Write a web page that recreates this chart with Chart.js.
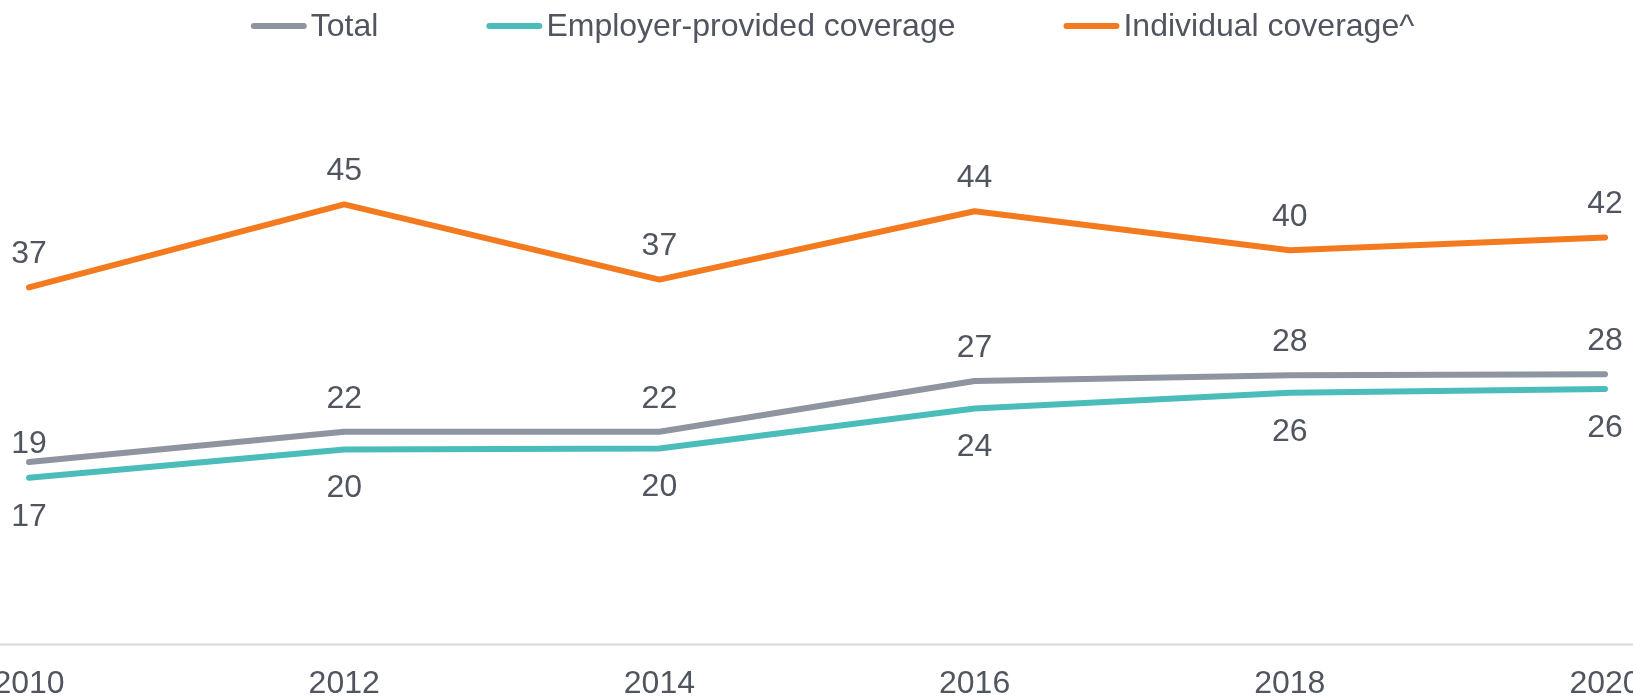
<!DOCTYPE html>
<html>
<head>
<meta charset="utf-8">
<script src="https://cdn.jsdelivr.net/npm/chart.js@4.4.1/dist/chart.umd.min.js"></script>
<style>
  html, body { margin: 0; padding: 0; background: #fff; }
  /* the plot runs past the window edges, so first/last year labels get cut like the original */
  #frame { position: relative; width: 1633px; height: 699px; overflow: hidden; }
  #wrap { position: absolute; left: -60px; top: 0; width: 1753px; height: 723px; }
</style>
</head>
<body>
<div id="frame"><div id="wrap"><canvas id="coverageChart"></canvas></div></div>
<script>
// données
const years = ['2010', '2012', '2014', '2016', '2018', '2020'];
const totalValues = [18.7, 21.8, 21.8, 27.0, 27.6, 27.7];
const employerValues = [17.1, 20.0, 20.1, 24.2, 25.8, 26.2];
const individualValues = [36.6, 45.1, 37.4, 44.4, 40.4, 41.7];
const seriesNames = ['Total', 'Employer-provided coverage', 'Individual coverage^'];

const TEXT_COLOR = '#50555f';
const FONT_FAMILY = "'Liberation Sans', Arial, sans-serif";
const FONT_SIZE = 32;

// where each series puts its value labels
const labelSide = ['above', 'below', 'above'];
const labelGapAbove = 35;
const labelGapBelow = 37;

// Légende : trait + texte, dessinée à la main (espacements d'Excel)
const legendLine = {
  id: 'legendLine',
  afterDraw(chart) {
    const ctx = chart.ctx;
    ctx.save();
    ctx.font = FONT_SIZE + 'px ' + FONT_FAMILY;
    ctx.textBaseline = 'middle';
    ctx.textAlign = 'left';
    const items = chart.data.datasets.map(ds => ({
      text: ds.label,
      color: ds.borderColor,
      w: ctx.measureText(ds.label).width
    }));
    const lineLen = 56, gapText = 4, gapItem = 108;
    let total = gapItem * (items.length - 1);
    items.forEach(it => { total += lineLen + gapText + it.w; });
    let x = (chart.width - total) / 2 + 16;
    const y = 26;
    items.forEach(it => {
      ctx.strokeStyle = it.color;
      ctx.lineWidth = 6;
      ctx.lineCap = 'round';
      ctx.beginPath();
      ctx.moveTo(x + 3, y);
      ctx.lineTo(x + lineLen - 3, y);
      ctx.stroke();
      ctx.fillStyle = TEXT_COLOR;
      ctx.fillText(it.text, x + lineLen + gapText, y + 1);
      x += lineLen + gapText + it.w + gapItem;
    });
    ctx.restore();
  }
};

// axe horizontal sur toute la largeur
const baseLine = {
  id: 'baseLine',
  beforeDatasetsDraw(chart) {
    const ctx = chart.ctx;
    const y0 = chart.scales.y.getPixelForValue(0);
    ctx.save();
    ctx.strokeStyle = '#d9d9d9';
    ctx.lineWidth = 2;
    ctx.beginPath();
    ctx.moveTo(0, y0);
    ctx.lineTo(chart.width, y0);
    ctx.stroke();
    ctx.restore();
  }
};

// Étiquettes de valeurs
const valueLabels = {
  id: 'valueLabels',
  afterDatasetsDraw(chart) {
    const ctx = chart.ctx;
    ctx.save();
    ctx.font = FONT_SIZE + 'px ' + FONT_FAMILY;
    ctx.fillStyle = TEXT_COLOR;
    ctx.textAlign = 'center';
    ctx.textBaseline = 'middle';
    chart.data.datasets.forEach((ds, i) => {
      const meta = chart.getDatasetMeta(i);
      meta.data.forEach((pt, j) => {
        let dy = labelSide[i] === 'above' ? -labelGapAbove : labelGapBelow;
        // Excel had this one pulled down closer to the line
        if (i === 0 && j === 0) dy += 15;
        ctx.fillText(Math.round(ds.data[j]), pt.x, pt.y + dy + 2);
      });
    });
    ctx.restore();
  }
};

const ctx = document.getElementById('coverageChart').getContext('2d');
const coverageChart = new Chart(ctx, {
  type: 'line',
  data: {
    labels: years,
    datasets: [
      { label: seriesNames[0], data: totalValues, borderColor: '#8e94a0', backgroundColor: '#8e94a0' },
      { label: seriesNames[1], data: employerValues, borderColor: '#4abdba', backgroundColor: '#4abdba' },
      { label: seriesNames[2], data: individualValues, borderColor: '#f47a20', backgroundColor: '#f47a20' }
    ]
  },
  options: {
    responsive: true,
    maintainAspectRatio: false,
    animation: false,
    layout: { padding: { top: 59, left: 89, right: 88, bottom: 0 } },
    elements: {
      point: { radius: 0, hoverRadius: 0 },
      line: { borderWidth: 6, tension: 0, borderCapStyle: 'round', borderJoinStyle: 'round' }
    },
    plugins: {
      legend: { display: false },
      tooltip: { enabled: false }
    },
    scales: {
      x: {
        grid: { display: false, drawTicks: false },
        border: { display: false },
        ticks: {
          color: TEXT_COLOR,
          font: { family: FONT_FAMILY, size: FONT_SIZE },
          padding: 20,
          maxRotation: 0,
          autoSkip: false
        }
      },
      y: { display: false, min: 0, max: 60 }
    }
  },
  plugins: [baseLine, valueLabels, legendLine]
});
</script>
</body>
</html>
